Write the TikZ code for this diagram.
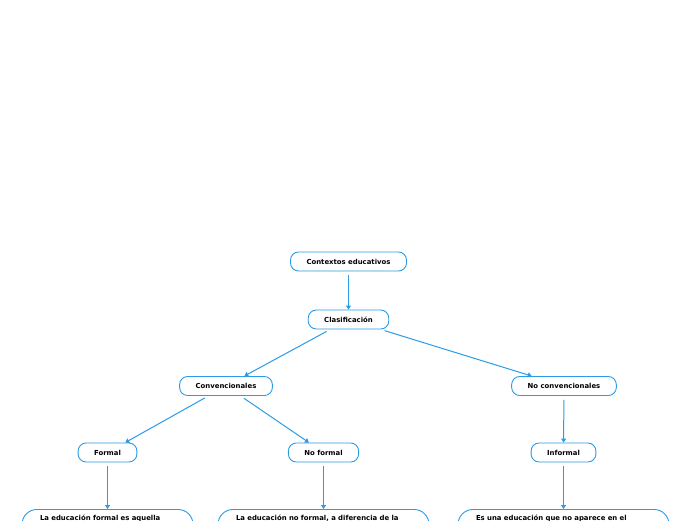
\documentclass[tikz,border=0pt]{standalone}
\usepackage{fontspec}
\setmainfont{DejaVu Sans}
\usepackage{xcolor}
\usetikzlibrary{arrows.meta,positioning}
\definecolor{mapblue}{HTML}{2A9BE6}

\begin{document}
\begin{tikzpicture}[x=1pt, y=-1pt,
  tema/.style={draw=mapblue, line width=0.9pt, rounded corners=8pt, fill=white,
               minimum height=19pt, inner xsep=16pt, font=\fontsize{6.9}{8}\selectfont\bfseries},
  texto/.style={draw=mapblue, line width=0.9pt, rounded corners=15pt, fill=white, anchor=north,
                align=left, inner xsep=18pt, inner ysep=6pt, text depth=60pt,
                font=\fontsize{6.9}{8}\selectfont\bfseries},
  flecha/.style={-{Triangle[length=4pt,width=5pt]}, line width=1pt, mapblue, shorten <=4pt}]
\useasboundingbox (0,0) rectangle (696,520);
\clip (0,0) rectangle (696,520);
\node[tema] (ctx) at (348.5,261.5) {Contextos educativos};
\node[tema] (cla) at (348.5,319.5) {Clasificación};
\node[tema] (con) at (226,386) {Convencionales};
\node[tema] (nco) at (564,386) {No convencionales};
\node[tema] (for) at (107.5,452.5) {Formal};
\node[tema] (nfo) at (323.5,452.5) {No formal};
\node[tema] (inf) at (563.5,452.5) {Informal};
% descripciones, cortadas por el borde
\node[texto, text width=135pt] (dfor) at (107.5,509) {La educación formal es aquella};
\node[texto, text width=175pt] (dnfo) at (323.5,509) {La educación no formal, a diferencia de la};
\node[texto, text width=175pt] (dinf) at (563.5,509) {Es una educación que no aparece en el};
\draw[flecha] (ctx) -- (cla);
\draw[flecha] (cla) -- (con);
\draw[flecha] (cla) -- (nco);
\draw[flecha] (con) -- (for);
\draw[flecha] (con) -- (nfo);
\draw[flecha] (nco) -- (inf);
\draw[flecha] (for) -- (dfor);
\draw[flecha] (nfo) -- (dnfo);
\draw[flecha] (inf) -- (dinf);
\end{tikzpicture}
\end{document}
